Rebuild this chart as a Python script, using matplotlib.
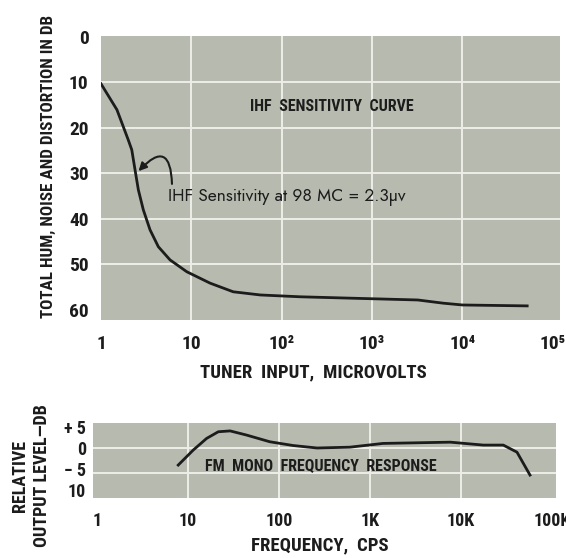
import numpy as np
import matplotlib.pyplot as plt

# IHF sensitivity curve (tuner input in microvolts vs total hum/noise/distortion dB)
sens_uv = [1.0, 1.5, 2.0, 2.19, 2.38, 2.59, 2.94, 3.49, 4.31, 5.81, 8.9, 16.1, 29, 58, 160, 570, 3200, 6100, 10000, 52000]
sens_db = [10.3, 16.0, 22.6, 24.8, 29.2, 33.6, 38.0, 42.4, 46.1, 49.0, 51.6, 54.1, 56.0, 56.7, 57.1, 57.4, 57.8, 58.5, 58.9, 59.1]

# FM mono frequency response
freq_cps = [7.8, 11.4, 16, 21.5, 29, 44, 79, 142, 261, 600, 1390, 7600, 17500, 29000, 41000, 57000]
resp_db = [-4.1, -0.5, 2.3, 3.9, 4.1, 3.1, 1.5, 0.6, 0.0, 0.2, 1.1, 1.4, 0.7, 0.7, -1.0, -6.5]

top_xticks = [1, 10, 100, 1000, 10000, 100000]
top_xlabels = ["1", "10", "10²", "10³", "10⁴", "10⁵"]
top_yticks = [0, 10, 20, 30, 40, 50, 60]
bot_xticks = [1, 10, 100, 1000, 10000, 100000]
bot_xlabels = ["1", "10", "100", "1K", "10K", "100K"]
bot_yticks = [5, 0, -5, -10]
bot_ylabels = ["+ 5", "0", "− 5", "10"]

BG = "#b7bbaf"
GRID = "#eeeee8"
INK = "#1c1c1c"
NARROW = ["Roboto Condensed", "PT Sans Narrow", "DejaVu Sans"]
PLAIN = ["Jost", "Century Gothic", "DejaVu Sans"]

fig = plt.figure(figsize=(5.66, 5.58), dpi=100)

# ---- top chart
ax = fig.add_axes([101 / 566, 1 - 320 / 558, 459 / 566, 284 / 558])
ax.set_facecolor(BG)
ax.set_xscale("log")
ax.set_xlim(1, 1.2e5)
ax.set_ylim(62.2, -0.2)
for v in top_xticks[1:-1]:
    ax.axvline(v, color=GRID, lw=1.4, zorder=1)
for v in top_yticks[1:-1]:
    ax.axhline(v, color=GRID, lw=1.4, zorder=1)
ax.plot(sens_uv, sens_db, color=INK, lw=2, zorder=3)
ax.set_xticks(top_xticks)
ax.set_xticklabels(top_xlabels)
ax.set_yticks(top_yticks)
ax.minorticks_off()
ax.tick_params(length=0, labelsize=14, colors=INK)
ax.tick_params(axis="x", pad=11)
ax.tick_params(axis="y", pad=9)
for lab in ax.get_xticklabels() + ax.get_yticklabels():
    lab.set_family(NARROW)
    lab.set_weight("bold")
for s in ax.spines.values():
    s.set_visible(False)

ax.text(44.7, 15.4, "IHF  SENSITIVITY  CURVE", family=NARROW, weight="bold",
        fontsize=11.5, color=INK, va="center", ha="left")
ax.text(5.5, 35.2, "IHF Sensitivity at 98 MC = 2.3\u00b5v", family=PLAIN,
        fontsize=12.5, color=INK, va="center", ha="left")
ax.annotate("", xy=(2.6, 29.5), xytext=(6.1, 32.3),
            arrowprops=dict(arrowstyle="-|>", color=INK, lw=1.5, shrinkA=0, shrinkB=0,
                            connectionstyle="arc3,rad=1.2", mutation_scale=12))

fig.text(48 / 566, 1 - 166 / 558, "TOTAL HUM, NOISE AND DISTORTION IN DB",
         rotation=90, ha="center", va="center", family=NARROW, weight="bold",
         fontsize=12.3, color=INK)
fig.text(313 / 566, 1 - 372 / 558, "TUNER  INPUT,  MICROVOLTS",
         ha="center", va="center", family=NARROW, weight="bold",
         fontsize=13.5, color=INK)

# ---- bottom chart
bx = fig.add_axes([93 / 566, 1 - 498 / 558, 463 / 566, 75 / 558])
bx.set_facecolor(BG)
bx.set_xscale("log")
bx.set_xlim(0.904, 1.1e5)
bx.set_ylim(-12, 6)
for v in bot_xticks[1:-1]:
    bx.axvline(v, color=GRID, lw=1.4, zorder=1)
for v in [0, -6]:
    bx.axhline(v, color=GRID, lw=1.4, zorder=1)
bx.plot(freq_cps, resp_db, color=INK, lw=2, zorder=3)
bx.set_xticks(bot_xticks)
bx.set_xticklabels(bot_xlabels)
bx.set_yticks(bot_yticks)
bx.set_yticklabels(bot_ylabels)
bx.minorticks_off()
bx.tick_params(length=0, labelsize=13, colors=INK)
bx.tick_params(axis="x", pad=10)
bx.tick_params(axis="y", pad=5)
for lab in bx.get_xticklabels() + bx.get_yticklabels():
    lab.set_family(NARROW)
    lab.set_weight("bold")
for s in bx.spines.values():
    s.set_visible(False)

bx.text(15.4, -4.1, "FM  MONO  FREQUENCY  RESPONSE", family=NARROW, weight="bold",
        fontsize=11.5, color=INK, va="center", ha="left")

fig.text(31 / 566, 1 - 476 / 558, "RELATIVE\nOUTPUT LEVEL\u2014DB", rotation=90,
         ha="center", va="center", family=NARROW, weight="bold", fontsize=13,
         color=INK, linespacing=1.3)
fig.text(320 / 566, 1 - 545 / 558, "FREQUENCY,  CPS", ha="center", va="center",
         family=NARROW, weight="bold", fontsize=13.5, color=INK)

plt.savefig("out.png", dpi=100, facecolor="white")
plt.close()
